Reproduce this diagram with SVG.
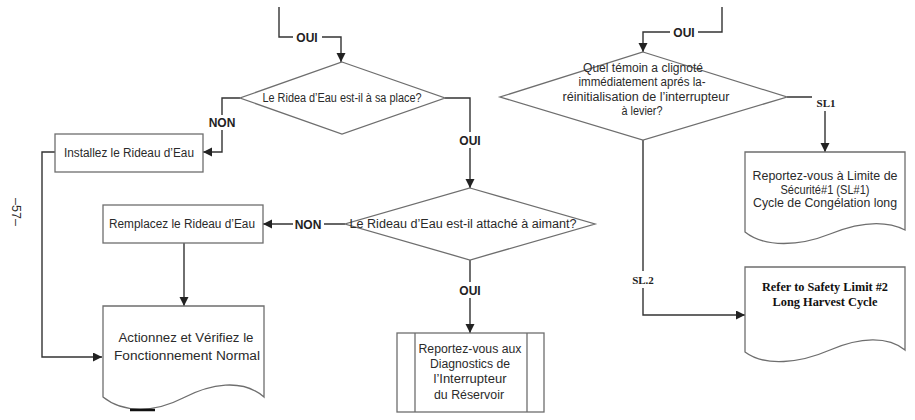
<svg xmlns="http://www.w3.org/2000/svg" width="915" height="420" viewBox="0 0 915 420">
<style>
.shape{fill:#fff;stroke:#6e6e6e;stroke-width:1.3}
.conn{fill:none;stroke:#333;stroke-width:1.4}
.t{font-family:"Liberation Sans",Arial,sans-serif;font-size:12.5px;fill:#2a2a2a;text-anchor:middle}
.lbl{font-family:"Liberation Sans",Arial,sans-serif;font-size:12px;font-weight:bold;fill:#222;text-anchor:middle}
.tb{font-family:"Liberation Serif","Times New Roman",serif;font-size:12.5px;font-weight:bold;fill:#111;text-anchor:middle}
.sl{font-family:"Liberation Serif","Times New Roman",serif;font-size:11px;font-weight:bold;fill:#222;text-anchor:middle}
.bg{fill:#fff;stroke:none}
</style>
<defs>
<marker id="arr" markerUnits="userSpaceOnUse" markerWidth="10" markerHeight="10" refX="9" refY="4.5" orient="auto">
<path d="M0,0 L9,4.5 L0,9 Z" fill="#222"/>
</marker>
</defs>

<text class="t" transform="translate(12,212) rotate(90)" font-size="12">–57–</text>

<g id="connectors">
<path class="conn" d="M279,7 V37 H341 V62" marker-end="url(#arr)"/>
<path class="conn" d="M240,98 H222 V152 H203" marker-end="url(#arr)"/>
<path class="conn" d="M55,152 H42 V357 H102" marker-end="url(#arr)"/>
<path class="conn" d="M445,98 H470 V188" marker-end="url(#arr)"/>
<path class="conn" d="M345,224 H263" marker-end="url(#arr)"/>
<path class="conn" d="M184,243 V306" marker-end="url(#arr)"/>
<path class="conn" d="M470,260 V333" marker-end="url(#arr)"/>
<path class="conn" d="M722,7 V32 H643 V52" marker-end="url(#arr)"/>
<path class="conn" d="M787,97 H825 V152" marker-end="url(#arr)"/>
<path class="conn" d="M643,140 V315 H745" marker-end="url(#arr)"/>
<rect class="bg" x="293" y="30" width="29" height="14"/>
<text class="lbl" x="307" y="41.5">OUI</text>
<rect class="bg" x="207" y="115" width="31" height="15"/>
<text class="lbl" x="222" y="127">NON</text>
<rect class="bg" x="459" y="132" width="22" height="16"/>
<text class="lbl" x="470" y="144.5">OUI</text>
<rect class="bg" x="293" y="216" width="31" height="15"/>
<text class="lbl" x="308" y="228.5">NON</text>
<rect class="bg" x="459" y="282" width="22" height="16"/>
<text class="lbl" x="470" y="294.5">OUI</text>
<rect class="bg" x="670" y="25" width="28" height="14"/>
<text class="lbl" x="684" y="36.5">OUI</text>
<rect class="bg" x="812" y="94" width="28" height="17"/>
<text class="sl" x="826" y="106.5">SL1</text>
<rect class="bg" x="630" y="271" width="26" height="17"/>
<text class="sl" x="643" y="283.5">SL.2</text>
</g>

<g id="d1">
<polygon class="shape" points="342,62 445,98 342,134 240,98"/>
<text class="t" x="342" y="102" textLength="159" lengthAdjust="spacingAndGlyphs">Le Ridea d’Eau est-il à sa place?</text>
</g>

<g id="n-installez">
<rect class="shape" x="55" y="134" width="148" height="38"/>
<text class="t" x="129" y="157" textLength="130" lengthAdjust="spacingAndGlyphs">Installez le Rideau d’Eau</text>
</g>

<g id="d2">
<polygon class="shape" points="470,188 595,224 470,260 345,224"/>
<text class="t" x="463" y="228" textLength="227" lengthAdjust="spacingAndGlyphs">Le Rideau d’Eau est-il attaché à aimant?</text>
</g>

<g id="n-remplacez">
<rect class="shape" x="103" y="205" width="160" height="38"/>
<text class="t" x="182" y="228" textLength="146" lengthAdjust="spacingAndGlyphs">Remplacez le Rideau d’Eau</text>
</g>

<g id="n-actionnez">
<path class="shape" d="M103,306 H264 V397 C242,378 210,384 183,398 C156,412 124,414 103,397 Z"/>
<text class="t" x="186" y="342" font-size="14" textLength="135" lengthAdjust="spacingAndGlyphs">Actionnez et Vérifiez le</text>
<text class="t" x="187" y="360" font-size="14" textLength="146" lengthAdjust="spacingAndGlyphs">Fonctionnement Normal</text>
<path d="M130,410 H155" stroke="#111" stroke-width="2.5" fill="none"/>
</g>

<g id="n-reportez-diag">
<rect class="shape" x="397" y="333" width="147" height="79"/>
<line class="shape" x1="415" y1="333" x2="415" y2="412"/>
<line class="shape" x1="527" y1="333" x2="527" y2="412"/>
<text class="t" x="470" y="353" textLength="103" lengthAdjust="spacingAndGlyphs">Reportez-vous aux</text>
<text class="t" x="470" y="368" textLength="80" lengthAdjust="spacingAndGlyphs">Diagnostics de</text>
<text class="t" x="470" y="383" textLength="73" lengthAdjust="spacingAndGlyphs">l’Interrupteur</text>
<text class="t" x="469" y="399" textLength="70" lengthAdjust="spacingAndGlyphs">du Réservoir</text>
</g>

<g id="d3">
<polygon class="shape" points="643,52 787,97 643,140 500,97"/>
<text class="t" x="643" y="72" textLength="120" lengthAdjust="spacingAndGlyphs">Quel témoin a clignoté</text>
<text class="t" x="642" y="86" textLength="127" lengthAdjust="spacingAndGlyphs">immédiatement aprés la-</text>
<text class="t" x="646" y="101" textLength="167" lengthAdjust="spacingAndGlyphs">réinitialisation de l’interrupteur</text>
<text class="t" x="642" y="115" textLength="41" lengthAdjust="spacingAndGlyphs">à levier?</text>
</g>

<g id="n-sl1">
<path class="shape" d="M745,152 H905 V230 C885,220 860,222 830,234 C800,246 765,248 745,232 Z"/>
<text class="t" x="825" y="180" textLength="145" lengthAdjust="spacingAndGlyphs">Reportez-vous à Limite de</text>
<text class="t" x="825" y="194" textLength="89" lengthAdjust="spacingAndGlyphs">Sécurité#1 (SL#1)</text>
<text class="t" x="825" y="207" textLength="144" lengthAdjust="spacingAndGlyphs">Cycle de Congélation long</text>
</g>

<g id="n-sl2">
<path class="shape" d="M745,267 H905 V350 C888,336 860,337 830,350 C800,363 765,367 745,352 Z"/>
<text class="tb" x="825" y="291" textLength="126" lengthAdjust="spacingAndGlyphs">Refer to Safety Limit #2</text>
<text class="tb" x="825" y="306" textLength="105" lengthAdjust="spacingAndGlyphs">Long Harvest Cycle</text>
</g>
</svg>
